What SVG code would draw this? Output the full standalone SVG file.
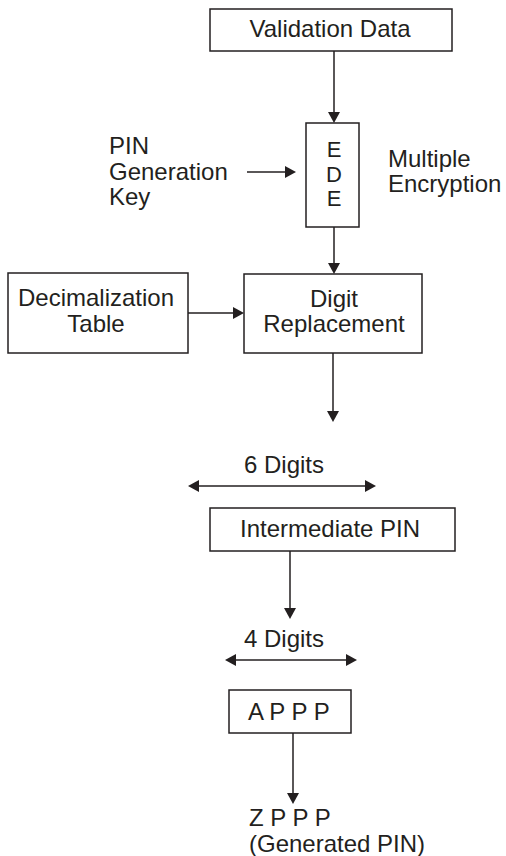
<svg xmlns="http://www.w3.org/2000/svg" width="506" height="856" viewBox="0 0 506 856">
<style>
.box{fill:#fff;stroke:#231f20;stroke-width:1.5}
.t{font-family:"Liberation Sans",Arial,sans-serif;font-size:24px;fill:#231f20}
.m{text-anchor:middle}
.c{fill:none;stroke:#231f20;stroke-width:1.5}
.a{marker-end:url(#ah)}
.d{marker-start:url(#ah);marker-end:url(#ah)}
</style>
<defs>
<marker id="ah" viewBox="0 0 11 12" refX="9" refY="6" markerWidth="11" markerHeight="12" markerUnits="userSpaceOnUse" orient="auto-start-reverse">
<path d="M0,0 L11,6 L0,12 z" fill="#231f20"/>
</marker>
</defs>
<rect width="506" height="856" fill="#fff"/>
<g id="connectors">
<line class="c a" x1="334" y1="51" x2="334" y2="121"/>
<line class="c a" x1="247" y1="172" x2="294" y2="172"/>
<line class="c a" x1="334" y1="227" x2="334" y2="272"/>
<line class="c a" x1="188" y1="313" x2="242" y2="313"/>
<line class="c a" x1="333" y1="353" x2="333" y2="420"/>
<line class="c d" x1="190" y1="486" x2="374" y2="486"/>
<line class="c a" x1="290" y1="551" x2="290" y2="617"/>
<line class="c d" x1="227" y1="660" x2="355" y2="660"/>
<line class="c a" x1="293" y1="733" x2="293" y2="802"/>
</g>
<g id="validation-data">
<rect class="box" x="210" y="9" width="242" height="42"/>
<text class="t m" x="330" y="37">Validation Data</text>
</g>
<g id="ede">
<rect class="box" x="306" y="123" width="53" height="104"/>
<text class="t m" style="font-size:22px" x="334" y="157">E</text>
<text class="t m" style="font-size:22px" x="334" y="181.5">D</text>
<text class="t m" style="font-size:22px" x="334" y="206">E</text>
</g>
<g id="pin-generation-key">
<text class="t" x="109" y="154">PIN</text>
<text class="t" x="109" y="180">Generation</text>
<text class="t" x="109" y="205">Key</text>
</g>
<g id="multiple-encryption">
<text class="t" x="388" y="167">Multiple</text>
<text class="t" x="388" y="192">Encryption</text>
</g>
<g id="decimalization-table">
<rect class="box" x="8" y="273" width="180" height="80"/>
<text class="t m" x="96" y="306">Decimalization</text>
<text class="t m" x="96" y="332">Table</text>
</g>
<g id="digit-replacement">
<rect class="box" x="244" y="274" width="178" height="79"/>
<text class="t m" x="334" y="307">Digit</text>
<text class="t m" x="334" y="332">Replacement</text>
</g>
<g id="six-digits">
<text class="t" x="244" y="473">6 Digits</text>
</g>
<g id="intermediate-pin">
<rect class="box" x="210" y="508" width="245" height="43"/>
<text class="t" x="240" y="537">Intermediate PIN</text>
</g>
<g id="four-digits">
<text class="t" x="244" y="647">4 Digits</text>
</g>
<g id="appp">
<rect class="box" x="229" y="690" width="122" height="43"/>
<text class="t" x="248" y="720">A P P P</text>
</g>
<g id="zppp">
<text class="t" x="249" y="826">Z P P P</text>
<text class="t" x="249" y="852">(Generated PIN)</text>
</g>
</svg>
